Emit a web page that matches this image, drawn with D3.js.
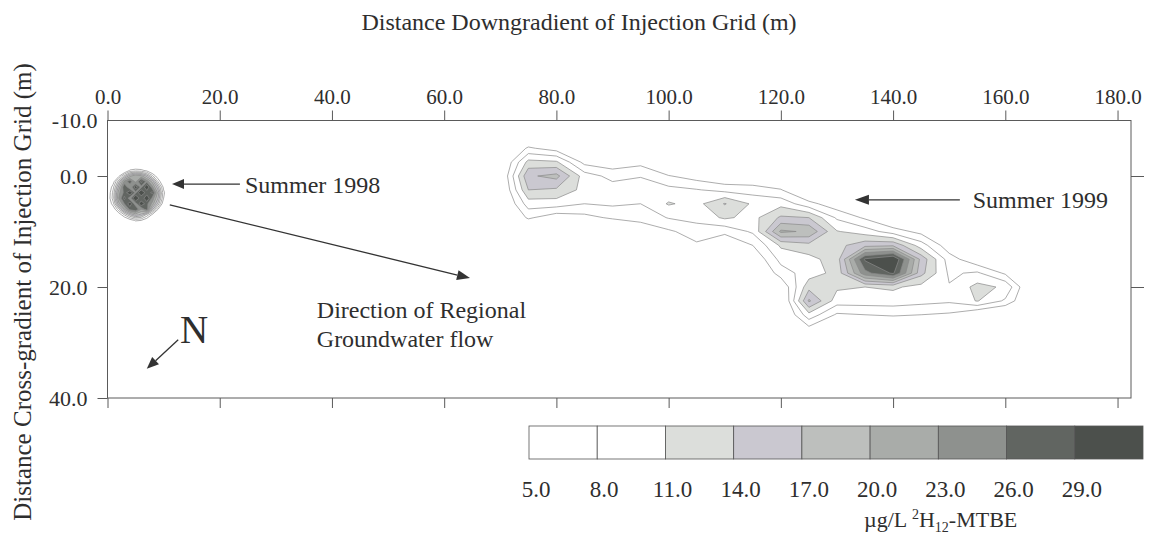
<!DOCTYPE html>
<html>
<head>
<meta charset="utf-8">
<script src="https://cdn.jsdelivr.net/npm/d3@7"></script>
<style>
body { margin: 0; background: #fff; }
text { font-family: "Liberation Serif", "Times New Roman", serif; fill: #2e2e2e; }
</style>
</head>
<body>
<div id="chart"></div>
<script>
// tick labels
var xTicks = [0, 20, 40, 60, 80, 100, 120, 140, 160, 180];
var yTicks = [-10, 0, 20, 40];
var yTicksRight = [0, 20];

// contour levels (ug/L) and their fills
var levels = [5, 8, 11, 14, 17, 20, 23, 26, 29];
var levelColors = ["#ffffff", "#ffffff", "#dcdedb", "#cac8d0", "#bdbfbd", "#a9aca9", "#8e918e", "#616561", "#4c504c"];

// summer 1999 plume, grid (m)
var plumeXs = [65, 70, 75, 80, 85, 90, 95, 100, 105, 110, 115, 120, 125, 130, 135, 140, 145, 150, 155, 160, 165, 170];
var plumeYs = [-7.5, -5, -2.5, 0, 2.5, 5, 7.5, 10, 12.5, 15, 17.5, 20, 22.5, 25, 27.5, 30];
var plume1999 = [
  [0,0,0,0,0,0,0,0,0,0,0,0,0,0,0,0,0,0,0,0,0,0],
  [0,0,5.5,3.5,0,0,0,0,0,0,0,0,0,0,0,0,0,0,0,0,0,0],
  [0,0.5,12,11.5,4,3,4,0,0,0,0,0,0,0,0,0,0,0,0,0,0,0],
  [0,1,16.5,18,9.5,7,7.8,5.2,3.5,2,2,1,0,0,0,0,0,0,0,0,0,0],
  [0,0.5,14,13.5,10,9.5,9.8,9,8.2,7,6.5,5.2,0.5,0,0,0,0,0,0,0,0,0],
  [0,0,9.5,9.5,8,8.5,8,11.3,10,14.2,10.5,10,6,3,0,0,0,0,0,0,0,0],
  [0,0,5.5,3,4,5.5,6,8.2,9,11.5,10,14.5,14,7.5,4.5,1,0,0,0,0,0,0],
  [0,0,0,0,0,0,3,4.5,6.5,5.8,8.5,20.6,19.5,11.2,9.5,6.5,4,0,0,0,0,0],
  [0,0,0,0,0,0,0,0,4.5,2,5,11.5,13,13,16,16.5,9.5,3,0,0,0,0],
  [0,0,0,0,0,0,0,0,0,0,2,9,10,12.5,29.5,32.5,16,6.5,2.5,0,0,0],
  [0,0,0,0,0,0,0,0,0,0,0,6.5,9.5,12,25,29.5,15,7.5,8.5,4.5,0,0],
  [0,0,0,0,0,0,0,0,0,0,0,2,13,11.5,11,11.5,10,8.2,12,10.5,0,0],
  [0,0,0,0,0,0,0,0,0,0,0,0,17.5,9.5,9.5,9.5,9,8.5,11.2,7.5,0,0],
  [0,0,0,0,0,0,0,0,0,0,0,0,10,4.5,5,5.5,5,4.5,1.5,0,0,0],
  [0,0,0,0,0,0,0,0,0,0,0,0,4,0,0,0,0,0,0,0,0,0],
  [0,0,0,0,0,0,0,0,0,0,0,0,0,0,0,0,0,0,0,0,0,0]
];

// summer 1998 plume near the injection grid
var blobXs = [-1, 0, 1, 2, 3, 4, 5, 6, 7, 8, 9, 10, 11];
var blobYs = [-3, -2, -1, 0, 1, 2, 3, 4, 5, 6, 7, 8, 9];
var plume1998 = [
  [0,0,0,0,0,0,0,0,0,0,0,0,0],
  [0,0,0,0,0,0,0,0,0,0,0,0,0],
  [0,0,0,0,0,5.5,6.5,6,4,0,0,0,0],
  [0,0,0,4,12,19,23,21,16,9,2,0,0],
  [0,0,3,13,24,28,22,30,25,19,8,0,0],
  [0,0,7,18,29,23,31,25,32,24,15,4,0],
  [0,1,9,22,27,32,25,33,27,30,19,6,0],
  [0,1.5,9.5,23,30,24,34,26,32,25,17,5,0],
  [0,0,7,19,26,31,24,32,27,22,13,2,0],
  [0,0,2,10,20,27,29,23,28,15,5,0,0],
  [0,0,0,2,8,14,18,16,10,4,0,0,0],
  [0,0,0,0,0,3,5.5,5,2,0,0,0,0],
  [0,0,0,0,0,0,0,0,0,0,0,0,0]
];

var width = 1153, height = 538;
var svg = d3.select("#chart").append("svg")
            .attr("width", width)
            .attr("height", height);

var x = d3.scaleLinear().domain([0, 182.4]).range([107.5, 1131]);
var y = d3.scaleLinear().domain([-10, 40]).range([120.5, 398]);
var axisColor = "#5a5a5a";

// contours
var plot = svg.append("g");
var drawPlume = function(xs, ys, rows){
  var dx = xs[1] - xs[0], dy = ys[1] - ys[0];
  var values = [].concat.apply([], rows);
  var proj = d3.geoTransform({
    point: function(px, py){
      this.stream.point(x(xs[0] + (px - 0.5) * dx), y(ys[0] + (py - 0.5) * dy));
    }
  });
  var path = d3.geoPath(proj);
  var cs = d3.contours().size([xs.length, ys.length]).thresholds(levels)(values);
  plot.append("g").selectAll("path")
      .data(cs)
      .enter().append("path")
      .attr("d", path)
      .style("fill", function(d, i){ return levelColors[i]; })
      .style("stroke", "#8a8a8a")
      .style("stroke-width", 0.7);
};
drawPlume(plumeXs, plumeYs, plume1999);
drawPlume(blobXs, blobYs, plume1998);

// frame
svg.append("rect")
   .attr("x", x(0)).attr("y", y(-10))
   .attr("width", x(182.4) - x(0)).attr("height", y(40) - y(-10))
   .style("fill", "none").style("stroke", axisColor).style("stroke-width", 1);

var fmt = function(d){ return d.toFixed(1); };
var styleAxis = function(g, size){
  g.attr("font-family", null).attr("font-size", null);
  g.selectAll("path.domain").remove();
  g.selectAll("line").style("stroke", axisColor);
  g.selectAll("text").style("font-size", size + "px").style("fill", "#2e2e2e");
};

var axTop = svg.append("g").attr("transform", "translate(0," + y(-10) + ")")
   .call(d3.axisTop(x).tickValues(xTicks).tickSize(10).tickSizeOuter(0).tickPadding(7).tickFormat(fmt));
styleAxis(axTop, 21);

var axBottom = svg.append("g").attr("transform", "translate(0," + y(40) + ")")
   .call(d3.axisBottom(x).tickValues(xTicks).tickSize(10).tickSizeOuter(0).tickFormat(""));
styleAxis(axBottom, 21);

var axLeft = svg.append("g").attr("transform", "translate(" + x(0) + ",0)")
   .call(d3.axisLeft(y).tickValues(yTicks).tickSize(10).tickSizeOuter(0).tickPadding(10).tickFormat(fmt));
styleAxis(axLeft, 22);
axLeft.selectAll(".tick").filter(function(d){ return d === -10; })
    .each(function(){
      d3.select(this).select("line").remove();
      d3.select(this).select("text").attr("x", -10);
    });

var axRight = svg.append("g").attr("transform", "translate(" + x(182.4) + ",0)")
   .call(d3.axisRight(y).tickValues(yTicksRight).tickSize(13).tickSizeOuter(0).tickFormat(""));
styleAxis(axRight, 21);

// titles
svg.append("text")
   .attr("x", 579).attr("y", 30)
   .attr("text-anchor", "middle")
   .style("font-size", "24px")
   .text("Distance Downgradient of Injection Grid (m)");

svg.append("text")
   .attr("transform", "translate(31,292) rotate(-90)")
   .attr("text-anchor", "middle")
   .style("font-size", "25px")
   .text("Distance Cross-gradient of Injection Grid (m)");

// annotations
var ann = svg.append("g");
var arrow = function(x1, y1, x2, y2, head, half){
  var px1 = x(x1), py1 = y(y1), px2 = x(x2), py2 = y(y2);
  var a = Math.atan2(py2 - py1, px2 - px1);
  var bx = px2 - head * Math.cos(a), by = py2 - head * Math.sin(a);
  ann.append("line")
     .attr("x1", px1).attr("y1", py1).attr("x2", bx).attr("y2", by)
     .style("stroke", "#333").style("stroke-width", 1.3);
  ann.append("path")
     .attr("d", "M" + px2 + "," + py2 +
                "L" + (bx + half * Math.sin(a)) + "," + (by - half * Math.cos(a)) +
                "L" + (bx - half * Math.sin(a)) + "," + (by + half * Math.cos(a)) + "Z")
     .style("fill", "#333");
};
var label = function(tx, ty, str, size){
  return ann.append("text").attr("x", x(tx)).attr("y", y(ty))
            .style("font-size", size + "px").text(str);
};

arrow(23.6, 1.45, 11.5, 1.45, 12, 5);
label(24.5, 3.05, "Summer 1998", 24);

arrow(151.9, 4.3, 133.2, 4.3, 14, 5);
label(154.2, 5.8, "Summer 1999", 24);

arrow(11.1, 5.2, 64.6, 18.4, 13, 5);
label(37.3, 25.6, "Direction of Regional", 24);
label(37.3, 30.8, "Groundwater flow", 24);

arrow(12.6, 29.5, 7.0, 34.75, 12, 5);
label(12.9, 30.1, "N", 39);

// legend
var legendX = d3.scaleLinear().domain([0, levels.length]).range([529, 1143]);
var legend = svg.append("g");
legend.selectAll("rect")
      .data(levels)
      .enter().append("rect")
      .attr("x", function(d, i){ return legendX(i); })
      .attr("y", 426)
      .attr("width", function(d, i){ return legendX(i + 1) - legendX(i); })
      .attr("height", 33)
      .style("fill", function(d, i){ return levelColors[i]; })
      .style("stroke", "#555")
      .style("stroke-width", 0.8);
legend.selectAll("text")
      .data(levels)
      .enter().append("text")
      .attr("x", function(d, i){ return legendX(i) + 7; })
      .attr("y", 497)
      .attr("text-anchor", "middle")
      .style("font-size", "23px")
      .text(fmt);

var unit = legend.append("text").attr("x", 864).attr("y", 527).style("font-size", "22px");
unit.append("tspan").text("\u00b5g/L ");
unit.append("tspan").attr("dy", -8).style("font-size", "14px").text("2");
unit.append("tspan").attr("dy", 8).text("H");
unit.append("tspan").attr("dy", 5).style("font-size", "14px").text("12");
unit.append("tspan").attr("dy", -5).text("-MTBE");
</script>
</body>
</html>
